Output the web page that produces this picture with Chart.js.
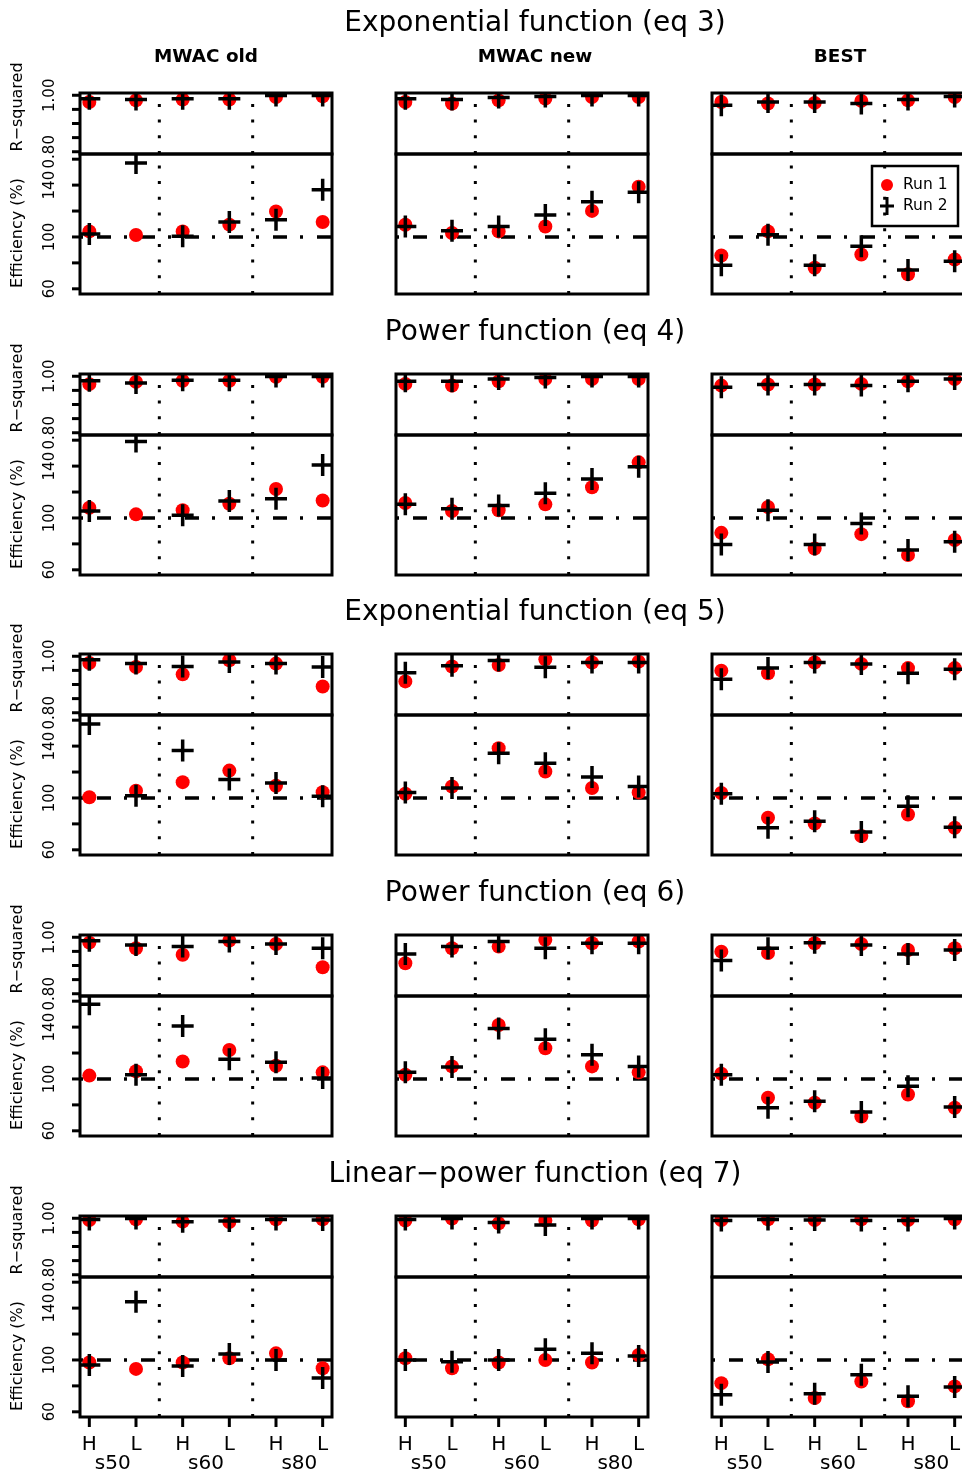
<!DOCTYPE html>
<html>
<head>
<meta charset="utf-8">
<title>R-squared and efficiency by sampler</title>
<script src="https://cdn.jsdelivr.net/npm/chart.js@4.4.1/dist/chart.umd.min.js"></script>
<style>
  html, body { margin: 0; padding: 0; background: #fff; overflow: hidden; }
  #page { position: relative; width: 962px; height: 1475px; overflow: hidden; background: #fff; }
  #page canvas { position: absolute; }
  .txt {
    position: absolute; width: 600px; text-align: center; white-space: nowrap;
    font-family: "DejaVu Sans", "Liberation Sans", sans-serif; color: #000;
  }
</style>
</head>
<body>
<div id="page"></div>
<script>
/* ============================================================
   Efficiency and R-squared for five fitted functions,
   three samplers (MWAC old / MWAC new / BEST), two runs
   ============================================================ */

const equations = ['Exponential function (eq 3)', 'Power function (eq 4)', 'Exponential function (eq 5)',
                   'Power function (eq 6)', 'Linear\u2212power function (eq 7)'];
const samplers  = ['MWAC old', 'MWAC new', 'BEST'];
const heights   = ['H', 'L', 'H', 'L', 'H', 'L'];
const sizes     = ['s50', 's60', 's80'];
const runs      = ['Run 1', 'Run 2'];

const r2Ticks       = [0.80, 0.85, 0.90, 0.95, 1.00];
const r2TickLabels  = ['0.80', '', '', '', '1.00'];
const effTicks      = [60, 80, 100, 120, 140, 160];
const effTickLabels = ['60', '', '100', '', '140', ''];
const effReference  = 100;

// each array: one row per sampler, values in order H-s50, L-s50, H-s60, L-s60, H-s80, L-s80
const r2Run1Eq3  = [[0.976, 0.982, 0.985, 0.985, 0.994, 0.996], [0.976, 0.971, 0.982, 0.988, 0.994, 0.994], [0.976, 0.971, 0.973, 0.980, 0.982, 0.994]];
const r2Run2Eq3  = [[0.988, 0.985, 0.988, 0.988, 0.999, 0.999], [0.988, 0.985, 0.992, 0.996, 0.999, 0.999], [0.965, 0.976, 0.976, 0.971, 0.985, 0.996]];
const effRun1Eq3 = [[104.3, 101.5, 104.3, 109.5, 119.7, 111.5], [109.4, 103.0, 104.3, 108.1, 120.1, 138.7], [85.7, 104.3, 76.3, 86.5, 71.2, 82.6]];
const effRun2Eq3 = [[102.3, 157.0, 100.5, 111.5, 113.3, 136.4], [108.1, 104.8, 108.1, 117.0, 127.2, 134.4], [78.1, 101.8, 78.1, 92.8, 74.5, 81.3]];

const r2Run1Eq4  = [[0.972, 0.980, 0.984, 0.984, 0.998, 0.998], [0.973, 0.967, 0.982, 0.990, 0.990, 0.990], [0.967, 0.971, 0.971, 0.973, 0.982, 0.990]];
const r2Run2Eq4  = [[0.984, 0.976, 0.986, 0.986, 0.999, 0.999], [0.982, 0.982, 0.990, 0.996, 0.999, 0.999], [0.961, 0.971, 0.971, 0.967, 0.982, 0.990]];
const effRun1Eq4 = [[107.9, 102.8, 105.9, 111.0, 122.4, 113.5], [111.5, 105.4, 105.9, 110.5, 123.7, 142.9], [88.5, 108.4, 76.5, 87.5, 71.4, 83.0]];
const effRun2Eq4 = [[105.4, 159.0, 102.0, 113.0, 114.8, 140.8], [110.5, 107.1, 109.7, 119.1, 130.1, 139.5], [79.6, 105.9, 79.6, 95.7, 75.3, 81.6]];

const r2Run1Eq5  = [[0.976, 0.962, 0.936, 0.986, 0.974, 0.893], [0.911, 0.964, 0.969, 0.989, 0.978, 0.981], [0.949, 0.940, 0.978, 0.973, 0.958, 0.958]];
const r2Run2Eq5  = [[0.988, 0.974, 0.964, 0.980, 0.974, 0.962], [0.942, 0.966, 0.985, 0.961, 0.978, 0.978], [0.919, 0.958, 0.978, 0.973, 0.940, 0.954]];
const effRun1Eq5 = [[100.5, 105.6, 112.2, 121.1, 109.4, 104.5], [103.3, 108.9, 138.3, 120.4, 107.7, 104.3], [103.8, 84.7, 80.3, 70.7, 87.2, 77.0]];
const effRun2Eq5 = [[157.0, 101.8, 136.7, 114.2, 111.5, 101.3], [104.3, 107.7, 134.4, 126.8, 116.1, 108.9], [103.3, 77.0, 82.1, 73.7, 93.6, 77.5]];

const r2Run1Eq6  = [[0.981, 0.961, 0.938, 0.988, 0.976, 0.894], [0.908, 0.961, 0.967, 0.991, 0.979, 0.985], [0.949, 0.944, 0.979, 0.976, 0.955, 0.961]];
const r2Run2Eq6  = [[0.988, 0.973, 0.967, 0.985, 0.976, 0.961], [0.941, 0.967, 0.985, 0.961, 0.979, 0.979], [0.918, 0.961, 0.981, 0.973, 0.941, 0.955]];
const effRun1Eq6 = [[102.6, 105.9, 113.5, 122.4, 110.2, 105.1], [103.3, 109.7, 141.6, 123.7, 109.7, 105.1], [104.1, 85.5, 81.6, 71.0, 88.0, 77.8]];
const effRun2Eq6 = [[157.7, 103.3, 140.8, 115.3, 112.8, 100.8], [105.1, 109.2, 139.0, 130.6, 118.6, 109.7], [103.3, 77.8, 82.9, 74.5, 94.4, 78.3]];

const r2Run1Eq7  = [[0.994, 0.996, 0.988, 0.987, 0.996, 0.996], [0.992, 0.999, 0.982, 0.992, 0.992, 0.996], [0.994, 0.996, 0.994, 0.996, 0.994, 0.996]];
const r2Run2Eq7  = [[0.996, 0.999, 0.988, 0.990, 0.996, 0.994], [0.996, 0.999, 0.985, 0.976, 0.999, 0.999], [0.992, 0.996, 0.994, 0.992, 0.992, 0.999]];
const effRun1Eq7 = [[98.0, 93.1, 98.0, 101.3, 105.1, 93.6], [101.3, 93.6, 98.0, 100.0, 98.0, 103.8], [82.1, 100.5, 70.7, 83.4, 68.1, 79.6]];
const effRun2Eq7 = [[96.2, 145.0, 95.4, 104.6, 100.0, 86.0], [100.0, 98.7, 100.0, 108.2, 105.1, 103.1], [73.2, 98.5, 74.0, 88.5, 72.0, 79.1]];

const r2Run1  = [r2Run1Eq3, r2Run1Eq4, r2Run1Eq5, r2Run1Eq6, r2Run1Eq7];
const r2Run2  = [r2Run2Eq3, r2Run2Eq4, r2Run2Eq5, r2Run2Eq6, r2Run2Eq7];
const effRun1 = [effRun1Eq3, effRun1Eq4, effRun1Eq5, effRun1Eq6, effRun1Eq7];
const effRun2 = [effRun2Eq3, effRun2Eq4, effRun2Eq5, effRun2Eq6, effRun2Eq7];

// ---- layout ----
const COL_LEFT = [80, 396, 712];
const ROW_TOP  = [93, 374, 654, 935, 1216];
const BOX_W = 252, BOX_H = 201;
// padding kept above Chart.js's own point-overflow margin so the plot box lands exactly
const PAD = { left: 80, top: 50, right: 20, bottom: 70 };
const FONT = '"DejaVu Sans", "Liberation Sans", sans-serif';
const RED = '#ff0000';

// dotted separators between the size groups
const groupBreaks = sizes.slice(1).map((s, i) => (i + 1) * 2 + 0.5);

const panelDecor = {
  id: 'panelDecor',
  beforeDatasetsDraw(chart) {
    const { ctx, chartArea: a, scales: { x, y, yR } } = chart;
    ctx.save();
    ctx.strokeStyle = '#000';
    ctx.lineWidth = 3;
    ctx.setLineDash([3, 12.7]);
    groupBreaks.forEach(v => {
      const px = x.getPixelForValue(v);
      [y, yR].forEach(s => {
        ctx.beginPath();
        ctx.moveTo(px, s.bottom);
        ctx.lineTo(px, s.top);
        ctx.stroke();
      });
    });
    // dot-dash reference at 100 %
    ctx.lineWidth = 3.5;
    ctx.setLineDash([3, 14, 14, 13]);
    const py = y.getPixelForValue(effReference);
    ctx.beginPath();
    ctx.moveTo(a.left, py);
    ctx.lineTo(a.right, py);
    ctx.stroke();
    ctx.restore();
  },
  beforeDatasetDraw(chart, args) {
    // keep each series inside its own half of the panel
    const s = args.meta.yScale, a = chart.chartArea, ctx = chart.ctx;
    ctx.save();
    ctx.beginPath();
    ctx.rect(a.left, s.top, a.right - a.left, s.bottom - s.top);
    ctx.clip();
  },
  afterDatasetDraw(chart) {
    chart.ctx.restore();
  },
  afterDatasetsDraw(chart, args, opts) {
    const { ctx, chartArea: a, scales: { x, y, yR } } = chart;
    ctx.save();
    ctx.strokeStyle = '#000';
    ctx.fillStyle = '#000';
    ctx.lineWidth = 3;
    ctx.setLineDash([]);
    ctx.strokeRect(a.left, yR.top, a.right - a.left, yR.bottom - yR.top);
    ctx.strokeRect(a.left, y.top, a.right - a.left, y.bottom - y.top);

    if (opts.col === 0) {
      const vtext = (txt, px, py) => {
        ctx.save();
        ctx.translate(px, py);
        ctx.rotate(-Math.PI / 2);
        ctx.fillText(txt, 0, 0);
        ctx.restore();
      };
      ctx.textAlign = 'center';
      ctx.textBaseline = 'middle';
      ctx.font = '15px ' + FONT;
      [[yR, r2Ticks, r2TickLabels], [y, effTicks, effTickLabels]].forEach(([s, ticks, labels]) => {
        ticks.forEach((t, i) => {
          const py = s.getPixelForValue(t);
          ctx.beginPath();
          ctx.moveTo(a.left - 8, py);
          ctx.lineTo(a.left, py);
          ctx.stroke();
          if (labels[i]) vtext(labels[i], a.left - 30, py);
        });
      });
      ctx.font = '16px ' + FONT;
      vtext('R\u2212squared', a.left - 62, a.top + 14);
      vtext('Efficiency (%)', a.left - 62, a.top + 140);
    }

    if (opts.row === equations.length - 1) {
      ctx.textAlign = 'center';
      ctx.textBaseline = 'middle';
      ctx.font = '20px ' + FONT;
      heights.forEach((h, i) => {
        const px = x.getPixelForValue(i + 1);
        ctx.beginPath();
        ctx.moveTo(px, a.bottom);
        ctx.lineTo(px, a.bottom + 10);
        ctx.stroke();
        ctx.fillText(h, px, a.bottom + 28);
      });
      sizes.forEach((s, i) => {
        const px = (x.getPixelForValue(2 * i + 1) + x.getPixelForValue(2 * i + 2)) / 2;
        ctx.fillText(s, px, a.bottom + 47);
      });
    }

    if (opts.legend) {
      const lx = a.left + 160, ly = a.top + 73;
      ctx.lineWidth = 2.5;
      ctx.strokeRect(lx, ly, 86, 60);
      ctx.fillStyle = RED;
      ctx.beginPath();
      ctx.arc(lx + 15, ly + 19, 6, 0, Math.PI * 2);
      ctx.fill();
      ctx.lineWidth = 3;
      ctx.beginPath();
      ctx.moveTo(lx + 8, ly + 40); ctx.lineTo(lx + 22, ly + 40);
      ctx.moveTo(lx + 15, ly + 31); ctx.lineTo(lx + 15, ly + 49);
      ctx.stroke();
      ctx.fillStyle = '#000';
      ctx.font = '15.5px ' + FONT;
      ctx.textAlign = 'left';
      ctx.textBaseline = 'middle';
      ctx.fillText(runs[0], lx + 31, ly + 19);
      ctx.fillText(runs[1], lx + 31, ly + 40);
    }
    ctx.restore();
  }
};

function points(vals) {
  return vals.map((v, i) => ({ x: i + 1, y: v }));
}

function crossSet(label, axis, vals) {
  return {
    label, yAxisID: axis, data: points(vals),
    pointStyle: 'cross', pointRadius: 11, pointBorderWidth: 3.5,
    pointBorderColor: '#000', pointBackgroundColor: '#000', order: 0
  };
}

function dotSet(label, axis, vals) {
  return {
    label, yAxisID: axis, data: points(vals),
    pointStyle: 'circle', pointRadius: 7, pointBorderWidth: 0,
    pointBorderColor: RED, pointBackgroundColor: RED, order: 1
  };
}

function panelConfig(r, c) {
  return {
    type: 'scatter',
    data: {
      datasets: [
        crossSet(runs[1], 'yR', r2Run2[r][c]),
        crossSet(runs[1], 'y', effRun2[r][c]),
        dotSet(runs[0], 'yR', r2Run1[r][c]),
        dotSet(runs[0], 'y', effRun1[r][c])
      ]
    },
    options: {
      responsive: false,
      animation: false,
      devicePixelRatio: 1,
      events: [],
      layout: { padding: PAD },
      plugins: {
        legend: { display: false },
        tooltip: { enabled: false },
        panelDecor: { row: r, col: c, legend: r === 0 && c === 2 }
      },
      scales: {
        x:  { type: 'linear', display: false, min: 0.8, max: 6.2 },
        y:  { type: 'linear', display: false, min: 56, max: 164, position: 'left', stack: 'panel', stackWeight: 140 },
        yR: { type: 'linear', display: false, min: 0.792, max: 1.008, position: 'left', stack: 'panel', stackWeight: 61 }
      }
    },
    plugins: [panelDecor]
  };
}

const page = document.getElementById('page');

function addText(txt, cx, cy, size, bold) {
  const d = document.createElement('div');
  d.className = 'txt';
  d.textContent = txt;
  d.style.left = (cx - 300) + 'px';
  d.style.top = (cy - size) + 'px';
  d.style.fontSize = size + 'px';
  d.style.lineHeight = (2 * size) + 'px';
  if (bold) d.style.fontWeight = 'bold';
  page.appendChild(d);
}

const titleY = [22, 331, 611, 892, 1173];

equations.forEach((eq, r) => {
  samplers.forEach((s, c) => {
    const cv = document.createElement('canvas');
    cv.width = PAD.left + BOX_W + PAD.right;
    cv.height = PAD.top + BOX_H + PAD.bottom;
    cv.style.left = (COL_LEFT[c] - PAD.left) + 'px';
    cv.style.top = (ROW_TOP[r] - PAD.top) + 'px';
    page.appendChild(cv);
    new Chart(cv, panelConfig(r, c));
  });
});

equations.forEach((eq, r) => addText(eq, 535, titleY[r], 28, false));
[206, 535, 840].forEach((cx, c) => addText(samplers[c], cx, 56, 18.4, true));
</script>
</body>
</html>
